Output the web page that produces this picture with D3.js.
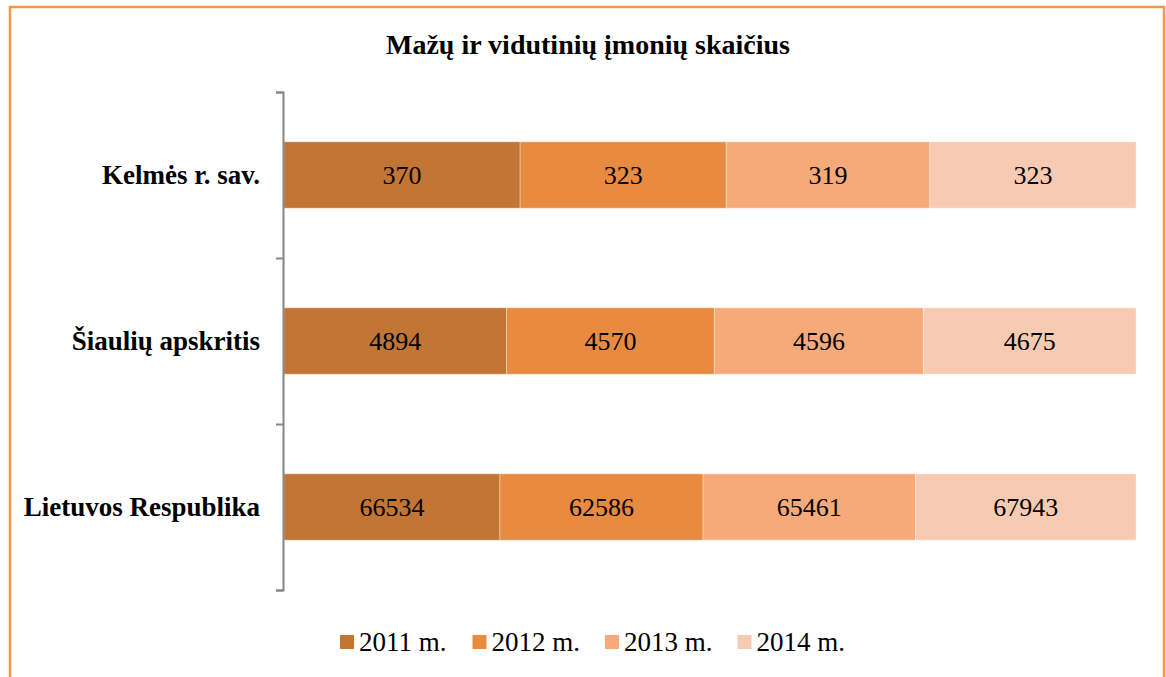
<!DOCTYPE html>
<html>
<head>
<meta charset="utf-8">
<script src="https://cdn.jsdelivr.net/npm/d3@7"></script>
<style>
  body { margin: 0; background: #fff; }
  svg text { font-family: "Liberation Serif", "Times New Roman", serif; fill: #000; }
</style>
</head>
<body>
<div id="chart"></div>
<script>
// Data
const categories = ["Kelmės r. sav.", "Šiaulių apskritis", "Lietuvos Respublika"];
const years = ["2011 m.", "2012 m.", "2013 m.", "2014 m."];
const values2011 = [370, 4894, 66534];
const values2012 = [323, 4570, 62586];
const values2013 = [319, 4596, 65461];
const values2014 = [323, 4675, 67943];
const colors = ["#C37534", "#E88B41", "#F7AA79", "#F8CAB1"];

const series = [values2011, values2012, values2013, values2014];

const width = 1166, height = 677;
const margin = { top: 92, right: 30, bottom: 87, left: 284 };
const plotRight = 1136;

const svg = d3.select("#chart").append("svg")
    .attr("width", width)
    .attr("height", height);

// Outer border
svg.append("rect")
    .attr("x", 10).attr("y", 7)
    .attr("width", 1154).attr("height", 680)
    .attr("fill", "none")
    .attr("stroke", "#F79646")
    .attr("stroke-width", 2.5);

// Title
svg.append("text")
    .attr("x", 588).attr("y", 54)
    .attr("text-anchor", "middle")
    .style("font-size", "28px")
    .style("font-weight", "bold")
    .text("Mažų ir vidutinių įmonių skaičius");

// Build stacked (percent) rows
const rows = categories.map((c, i) => {
    const row = { category: c };
    years.forEach((y, j) => { row[y] = series[j][i]; });
    return row;
});
const stack = d3.stack().keys(years).offset(d3.stackOffsetExpand);
const stacked = stack(rows);

const yScale = d3.scaleBand()
    .domain(categories)
    .range([margin.top, height - margin.bottom])
    .paddingInner(0.6)
    .paddingOuter(0.3);

const xScale = d3.scaleLinear()
    .domain([0, 1])
    .range([margin.left, plotRight]);

// Bars
const groups = svg.selectAll("g.series")
    .data(stacked)
    .enter()
    .append("g")
    .attr("class", "series")
    .attr("fill", (d, i) => colors[i]);

groups.selectAll("rect")
    .data(d => d.map(p => ({ p, key: d.key })))
    .enter()
    .append("rect")
    .attr("x", d => xScale(d.p[0]))
    .attr("y", d => yScale(d.p.data.category))
    .attr("width", d => xScale(d.p[1]) - xScale(d.p[0]))
    .attr("height", yScale.bandwidth())
    .attr("stroke", "#fff")
    .attr("stroke-opacity", 0.35)
    .attr("stroke-width", 1);

// Value labels
groups.selectAll("text")
    .data(d => d.map(p => ({ p, key: d.key })))
    .enter()
    .append("text")
    .attr("x", d => (xScale(d.p[0]) + xScale(d.p[1])) / 2)
    .attr("y", d => yScale(d.p.data.category) + yScale.bandwidth() / 2)
    .attr("dy", "0.35em")
    .attr("text-anchor", "middle")
    .style("font-size", "26px")
    .text(d => d.p.data[d.key]);

// Axis with ticks at band boundaries
const axisScale = d3.scaleLinear()
    .domain([0, categories.length])
    .range([margin.top, height - margin.bottom]);

const axis = svg.append("g")
    .attr("transform", `translate(${margin.left - 1}, 0)`)
    .call(d3.axisLeft(axisScale).ticks(categories.length).tickSize(7).tickSizeOuter(7).tickFormat(""));
axis.selectAll("path, line")
    .attr("stroke", "#868686")
    .attr("stroke-width", 2);

// Category labels
svg.selectAll("text.cat")
    .data(categories)
    .enter()
    .append("text")
    .attr("class", "cat")
    .attr("x", 260)
    .attr("y", d => yScale(d) + yScale.bandwidth() / 2)
    .attr("dy", "0.35em")
    .attr("text-anchor", "end")
    .style("font-size", "27px")
    .style("font-weight", "bold")
    .text(d => d);

// Legend
const legend = svg.selectAll("g.legend")
    .data(years)
    .enter()
    .append("g")
    .attr("class", "legend")
    .attr("transform", (d, i) => `translate(${340 + i * 132.5}, 635)`);

legend.append("rect")
    .attr("width", 14).attr("height", 14)
    .attr("fill", (d, i) => colors[i]);

legend.append("text")
    .attr("x", 19).attr("y", 7)
    .attr("dy", "0.35em")
    .style("font-size", "27px")
    .text(d => d);
</script>
</body>
</html>
